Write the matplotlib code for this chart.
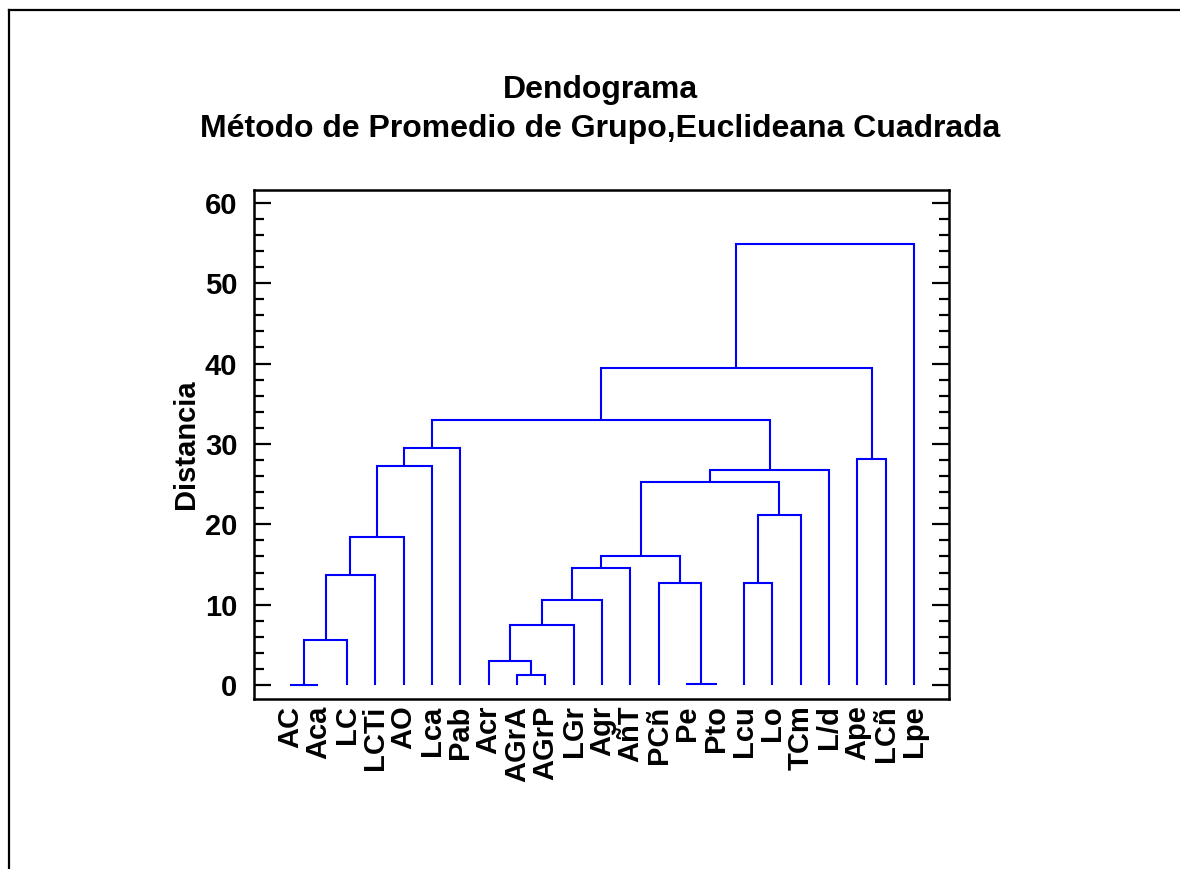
import numpy as np
import matplotlib
matplotlib.use("Agg")
import matplotlib.pyplot as plt
from matplotlib.lines import Line2D
from matplotlib.ticker import MultipleLocator

plt.rcParams["font.family"] = ["Liberation Sans", "DejaVu Sans"]
plt.rcParams["font.weight"] = "bold"

# ── Data: leaf order and merge steps (id 23+k = result of merge k) ────────────
labels = ["AC", "Aca", "LC", "LCTi", "AO", "Lca", "Pab", "Acr", "AGrA", "AGrP",
          "LGr", "Agr", "AñT", "PCñ", "Pe", "Pto", "Lcu", "Lo", "TCm", "L/d",
          "Ape", "LCñ", "Lpe"]

merge_left = [0, 23, 24, 25, 26, 27,
              8, 7, 30, 31, 32,
              14, 13, 33, 16, 37, 36, 39,
              28, 20, 41, 43]
merge_right = [1, 2, 3, 4, 5, 6,
               9, 29, 10, 11, 12,
               15, 34, 35, 17, 18, 38, 19,
               40, 21, 42, 22]
merge_height = [0.0, 5.6, 13.7, 18.4, 27.2, 29.5,
                1.2, 3.0, 7.5, 10.6, 14.5,
                0.1, 12.7, 16.0, 12.7, 21.1, 25.2, 26.8,
                33.0, 28.1, 39.4, 54.9]

COLOR_TREE = "#0000FF"
FS = 21

n = len(labels)
node_x = {i: float(i) for i in range(n)}
node_y = {i: 0.0 for i in range(n)}

fig = plt.figure(figsize=(11.8, 8.69), dpi=100)
ax = fig.add_axes([0.2153, 0.196, 0.5887, 0.5854])

for k, (a, b, h) in enumerate(zip(merge_left, merge_right, merge_height)):
    xa, ya = node_x[a], node_y[a]
    xb, yb = node_x[b], node_y[b]
    ax.plot([xa, xa, xb, xb], [ya, h, h, yb], color=COLOR_TREE, lw=1.5,
            solid_capstyle="butt", solid_joinstyle="miter")
    node_x[n + k] = (xa + xb) / 2
    node_y[n + k] = h

ax.set_xlim(-1.27, 22 + 1.22)
ax.set_ylim(-1.7, 61.6)
ax.set_xticks(range(n))
ax.set_xticklabels(labels, rotation=90, fontsize=FS, fontweight="bold")
ax.tick_params(axis="x", length=0, pad=5)
ax.yaxis.set_major_locator(MultipleLocator(10))
ax.yaxis.set_minor_locator(MultipleLocator(2))
ax.tick_params(axis="y", which="major", direction="in", length=12, width=1.6,
               left=True, right=True, labelsize=FS, pad=12)
ax.tick_params(axis="y", which="minor", direction="in", length=7, width=1.6,
               left=True, right=True)
for lab in ax.get_yticklabels():
    lab.set_fontweight("bold")
ax.set_ylabel("Distancia", fontsize=FS, fontweight="bold")
ax.yaxis.set_label_coords(-0.078, 0.5)
for spine in ax.spines.values():
    spine.set_linewidth(1.8)

fig.text(0.5085, 0.897, "Dendograma", ha="center", va="center",
         fontsize=23, fontweight="bold")
fig.text(0.5085, 0.851, "Método de Promedio de Grupo,Euclideana Cuadrada",
         ha="center", va="center", fontsize=23, fontweight="bold")

# outer frame (left and top edges)
fig.add_artist(Line2D([9 / 1180, 9 / 1180], [0, 1 - 10 / 869],
                      transform=fig.transFigure, color="black", lw=1.6))
fig.add_artist(Line2D([9 / 1180, 1], [1 - 10 / 869, 1 - 10 / 869],
                      transform=fig.transFigure, color="black", lw=1.6))

fig.savefig("out.png", dpi=100)
